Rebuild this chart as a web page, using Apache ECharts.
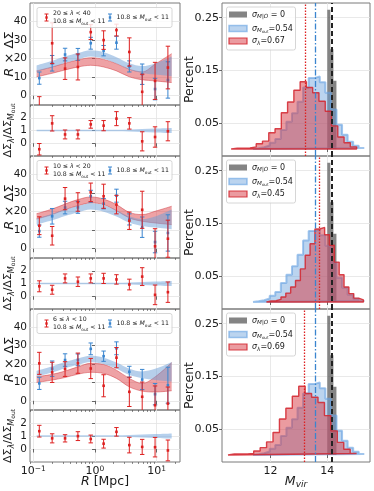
<!DOCTYPE html>
<html>
<head>
<meta charset="utf-8">
<script src="https://cdn.jsdelivr.net/npm/echarts@6/dist/echarts.min.js"></script>
<style>
html,body{margin:0;padding:0;background:#ffffff;}
#chart{width:374px;height:491px;}
</style>
</head>
<body>
<div id="chart"></div>
<script>
// ================= DATA =================
// projected radius of the measurement bins [Mpc]
const radiusMpc = [0.125, 0.202, 0.327, 0.528, 0.853, 1.379, 2.228, 3.602, 5.821, 9.408, 15.2];
// radius grid of the model bands [Mpc]
const bandRadius = [0.113, 0.202, 0.327, 0.528, 0.853, 1.379, 2.228, 3.602, 5.821, 9.408, 17.5];

// richness bins and observable mass bin
const lambdaBins = [[20, 40], [10, 20], [6, 10]];
const moutBin = [10.8, 11];

// R x DeltaSigma, Mout-selected sample (same in every row)
const moutDS    = [9.5, 17.5, 22.2, 22.3, 28.3, 24.3, 28.6, 15.8, 11.6, 3.6, 8.5];
const moutDSErr = [3.3, 4.2, 3.4, 3.2, 3.2, 2.8, 3.5, 3.0, 5.5, 5.8, 9.8];

// R x DeltaSigma, richness-selected samples
const lambda1DS    = [-7.5, 28.3, 14.6, 15.5, 34.3, 30.0, 35.4, 23.6, 2.1, 8.0, 15.2];
const lambda1DSErr = [7.0, 11.0, 5.8, 7.0, 4.0, 5.0, 3.2, 7.6, 9.5, 10.0, 11.5];
const lambda2DS    = [12.4, 7.0, 27.0, 25.2, 30.4, 28.3, 23.8, 15.1, 21.0, 1.3, 5.4];
const lambda2DSErr = [4.8, 5.0, 6.0, 5.0, 5.0, 6.5, 5.0, 4.7, 10.0, 9.5, 10.0];
const lambda3DS    = [20.4, 15.5, 17.3, 20.5, 17.6, 8.2, 23.5, 4.9, 2.2, -2.4, -1.5];
const lambda3DSErr = [6.0, 5.5, 4.0, 5.5, 5.5, 6.0, 5.5, 8.0, 8.0, 10.5, 9.0];

// model bands (lower / upper)
const moutBandLo = [13.2, 15.4, 17.7, 19.6, 21.2, 20.0, 17.4, 14.0, 12.3, 11.4, 10.5];
const moutBandHi = [16.3, 18.8, 21.1, 23.0, 24.5, 23.5, 20.8, 17.5, 16.0, 17.4, 21.2];
const lambda1BandLo = [10.2, 12.1, 13.9, 15.5, 16.4, 15.5, 13.4, 10.2, 8.6, 8.0, 7.1];
const lambda1BandHi = [13.4, 15.5, 17.5, 19.3, 20.5, 19.6, 17.3, 14.3, 12.9, 17.0, 22.7];
const lambda2BandLo = [16.0, 18.4, 21.1, 23.2, 24.7, 23.8, 20.5, 16.6, 14.8, 13.9, 13.0];
const lambda2BandHi = [18.9, 21.4, 24.1, 26.5, 27.9, 26.8, 23.8, 19.6, 18.4, 20.2, 22.9];
const lambda3BandLo = [10.0, 11.3, 12.7, 14.5, 15.5, 14.9, 12.2, 7.6, 5.3, 4.8, 5.5];
const lambda3BandHi = [13.1, 14.4, 16.2, 18.5, 20.4, 19.8, 16.7, 12.2, 9.5, 13.0, 20.8];

// ratio DeltaSigma_lambda / DeltaSigma_Mout
const lambda1Ratio    = [-0.47, 1.56, 0.69, 0.69, 1.48, 1.38, 1.93, 1.56, 0.15, 0.49, 0.94];
const lambda1RatioErr = [0.45, 0.6, 0.35, 0.35, 0.3, 0.4, 0.55, 0.45, 0.75, 0.8, 0.75];
const lambda2Ratio    = [0.78, 0.51, 1.40, 1.14, 1.40, 1.40, 1.32, 0.92, 1.54, 0.11, 0.32];
const lambda2RatioErr = [0.43, 0.35, 0.35, 0.37, 0.35, 0.4, 0.37, 0.42, 0.7, 0.77, 0.8];
const lambda3Ratio    = [1.37, 0.82, 0.82, 0.99, 0.77, 0.41, 1.32, 0.30, 0.16, 0.14, -0.11];
const lambda3RatioErr = [0.45, 0.35, 0.28, 0.34, 0.3, 0.34, 0.33, 0.6, 0.58, 0.75, 0.8];
const ratioBandLo = [0.94, 0.95, 0.95, 0.95, 0.95, 0.95, 0.94, 0.92, 0.89, 0.85, 0.80];
const ratioBandHi = [1.06, 1.05, 1.05, 1.05, 1.05, 1.05, 1.06, 1.08, 1.11, 1.15, 1.20];

// M_vir histograms (first bin edge, bin width, fractions)
const trueHistStart = 14.0, trueHistWidth = 0.107;
const trueHist = [0.265, 0.19, 0.13];
const moutHistStart = 11.39, moutHistWidth = 0.1955;
const moutHist = [0.0016, 0.0035, 0.0067, 0.012, 0.019, 0.036, 0.052, 0.068, 0.09, 0.117,
                  0.135, 0.138, 0.127, 0.107, 0.075, 0.046, 0.027, 0.014, 0.006, 0.002];
const lambdaHistStart = [10.62, 11.86, 10.51];
const lambdaHistWidth = [0.2205, 0.1705, 0.226];
const lambda1Hist = [0.0016, 0.0016, 0.002, 0.004, 0.0099, 0.015, 0.031, 0.0385, 0.069, 0.0895,
                     0.112, 0.128, 0.117, 0.107, 0.091, 0.072, 0.044, 0.023, 0.012, 0.004];
const lambda2Hist = [0.002, 0.0025, 0.005, 0.0095, 0.017, 0.0285, 0.041, 0.063, 0.089, 0.111,
                     0.139, 0.142, 0.128, 0.108, 0.076, 0.052, 0.0285, 0.016, 0.0075, 0.004];
const lambda3Hist = [0.002, 0.002, 0.002, 0.003, 0.0077, 0.014, 0.025, 0.043, 0.0686, 0.089,
                     0.112, 0.131, 0.117, 0.11, 0.1, 0.075, 0.046, 0.024, 0.011, 0.003];

// mean masses (vertical lines)
const meanTrue = 14.14;
const meanMout = 13.56;
const meanLambda = [13.23, 13.72, 13.19];

// scatter values in legends
const sigmaTrue = '0';
const sigmaMout = '0.54';
const sigmaLambda = ['0.67', '0.45', '0.69'];

// tick labels
const xLogTicks = [-1, 0, 1];
const xMinorTicksMpc = [0.09, 0.2, 0.3, 0.4, 0.5, 0.6, 0.7, 0.8, 0.9, 2, 3, 4, 5, 6, 7, 8, 9, 20];
const mainYTicks = [0, 10, 20, 30, 40];
const ratioYTicks = [0, 1, 2];
const histYTicks = [0.05, 0.15, 0.25];
const histXTicks = [12, 14];

// ================= STYLE / LAYOUT =================
const FONT = 'DejaVu Sans';
const TXT = '#1a1a1a';
const RED = '#dd2020';
const BLUE = '#3a85cf';
const GRIDC = '#e3e3e3';
const FRAME = '#7a7a7a';
const X_LOG_MIN = -1.054, X_LOG_MAX = 1.378;
const MAIN_Y = [-5, 50], RATIO_Y = [-1, 3], HIST_Y = [-0.0133, 0.278], HIST_X = [10.3, 15.5];

const leftBoxes = [
  {top: 3, height: 102}, {top: 105, height: 51},
  {top: 156, height: 102}, {top: 258, height: 51},
  {top: 309, height: 101}, {top: 410, height: 52}
];
const histBoxes = [{top: 3, height: 153}, {top: 156, height: 153}, {top: 309, height: 153}];

const grids = [];
leftBoxes.forEach(b => grids.push({left: 30, width: 150, top: b.top, height: b.height, show: true,
  borderColor: FRAME, borderWidth: 1, backgroundColor: 'transparent', containLabel: false, outerBoundsMode: 'none'}));
histBoxes.forEach(b => grids.push({left: 222, width: 148, top: b.top, height: b.height, show: true,
  borderColor: FRAME, borderWidth: 1, backgroundColor: 'transparent', containLabel: false, outerBoundsMode: 'none'}));

const minorLog = xMinorTicksMpc.map(v => Math.log10(v));

const xAxes = [];
for (let g = 0; g < 6; g++) {
  xAxes.push({
    type: 'value', gridIndex: g, position: 'bottom', min: X_LOG_MIN, max: X_LOG_MAX,
    axisLine: {show: false},
    axisTick: {show: true, length: 3.5, customValues: xLogTicks, lineStyle: {color: '#444', width: 0.8}},
    axisLabel: {show: g === 5, customValues: xLogTicks, margin: 3, color: TXT, fontSize: 11, fontFamily: FONT, lineHeight: 13,
      formatter: v => '10{sup|' + (v < 0 ? '−' : '') + Math.abs(Math.round(v)) + '}',
      rich: {sup: {fontSize: 7.5, fontFamily: FONT, color: TXT, verticalAlign: 'top', lineHeight: 8}}},
    splitLine: {show: true, lineStyle: {color: GRIDC, width: 0.8}},
    name: g === 5 ? '{i|R} [Mpc]' : '', nameLocation: 'middle', nameGap: 13, nameMoveOverlap: false,
    nameTextStyle: {fontSize: 12.5, color: TXT, fontFamily: FONT,
      rich: {i: {fontStyle: 'italic', fontSize: 12.5, fontFamily: FONT, color: TXT}}}
  });
  xAxes.push({
    type: 'value', gridIndex: g, position: 'bottom', min: X_LOG_MIN, max: X_LOG_MAX,
    axisLine: {show: false}, axisLabel: {show: false}, splitLine: {show: false},
    axisTick: {show: true, length: 2, customValues: minorLog, lineStyle: {color: '#444', width: 0.6}}
  });
}
for (let r = 0; r < 3; r++) {
  xAxes.push({
    type: 'value', gridIndex: 6 + r, position: 'bottom', min: HIST_X[0], max: HIST_X[1],
    axisLine: {show: false},
    axisTick: {show: true, length: 3, customValues: histXTicks, lineStyle: {color: '#444', width: 0.8}},
    axisLabel: {show: r === 2, customValues: histXTicks, margin: 4, color: TXT, fontSize: 11, fontFamily: FONT},
    splitLine: {show: true, lineStyle: {color: GRIDC, width: 0.8}},
    name: r === 2 ? '{i|M}{s|vir}' : '', nameLocation: 'middle', nameGap: 12, nameMoveOverlap: false,
    nameTextStyle: {fontSize: 12.5, color: TXT, fontFamily: FONT, lineHeight: 15,
      rich: {i: {fontStyle: 'italic', fontSize: 12.5, fontFamily: FONT, color: TXT},
             s: {fontStyle: 'italic', fontSize: 9, fontFamily: FONT, color: TXT, verticalAlign: 'bottom', lineHeight: 9}}}
  });
}

const yAxes = [];
for (let g = 0; g < 6; g++) {
  const isMain = g % 2 === 0;
  yAxes.push({
    type: 'value', gridIndex: g,
    min: isMain ? MAIN_Y[0] : RATIO_Y[0], max: isMain ? MAIN_Y[1] : RATIO_Y[1],
    axisLine: {show: false},
    axisTick: {show: true, length: 3, customValues: isMain ? mainYTicks : ratioYTicks, lineStyle: {color: '#444', width: 0.8}},
    axisLabel: {customValues: isMain ? mainYTicks : ratioYTicks, fontSize: 10.5, color: TXT, fontFamily: FONT, margin: 3},
    splitLine: {show: true, lineStyle: {color: GRIDC, width: 0.8}},
    name: isMain ? '{i|R} × ΔΣ' : 'ΔΣ{s|λ}/ΔΣ{s|M}{ss|out}',
    nameLocation: 'middle', nameRotate: 90, nameGap: isMain ? 14 : 14, nameMoveOverlap: false,
    nameTextStyle: isMain
      ? {fontSize: 13, color: TXT, fontFamily: FONT, rich: {i: {fontStyle: 'italic', fontSize: 13, fontFamily: FONT, color: TXT}}}
      : {fontSize: 11, color: TXT, fontFamily: FONT, lineHeight: 15,
         rich: {s: {fontStyle: 'italic', fontSize: 8, fontFamily: FONT, color: TXT, verticalAlign: 'bottom', lineHeight: 9},
                ss: {fontSize: 6, fontFamily: FONT, color: TXT, verticalAlign: 'bottom', lineHeight: 6}}}
  });
}
for (let r = 0; r < 3; r++) {
  yAxes.push({
    type: 'value', gridIndex: 6 + r, min: HIST_Y[0], max: HIST_Y[1],
    axisLine: {show: false},
    axisTick: {show: true, length: 3, customValues: histYTicks, lineStyle: {color: '#444', width: 0.8}},
    axisLabel: {customValues: histYTicks, formatter: v => v.toFixed(2), fontSize: 11, color: TXT, fontFamily: FONT, margin: 3},
    splitLine: {show: true, lineStyle: {color: GRIDC, width: 0.8}},
    name: 'Percent', nameLocation: 'middle', nameRotate: 90, nameGap: 26, nameMoveOverlap: false,
    nameTextStyle: {fontSize: 12.5, color: TXT, fontFamily: FONT}
  });
}

// ================= SERIES BUILDERS =================
function errorBars(xi, yi, radii, vals, errs, color, z) {
  return {
    type: 'custom', xAxisIndex: xi, yAxisIndex: yi, clip: true, z: z, silent: true,
    encode: {x: 0, y: 1},
    data: radii.map((R, i) => [Math.log10(R), vals[i], errs[i]]),
    renderItem: function (params, api) {
      const x = api.value(0), y = api.value(1), e = api.value(2);
      const c = api.coord([x, y]), t = api.coord([x, y + e]), b = api.coord([x, y - e]);
      const cw = 2.2;
      const st = {stroke: color, lineWidth: 1};
      return {type: 'group', children: [
        {type: 'line', shape: {x1: c[0], y1: t[1], x2: c[0], y2: b[1]}, style: st},
        {type: 'line', shape: {x1: c[0] - cw, y1: t[1], x2: c[0] + cw, y2: t[1]}, style: st},
        {type: 'line', shape: {x1: c[0] - cw, y1: b[1], x2: c[0] + cw, y2: b[1]}, style: st},
        {type: 'rect', shape: {x: c[0] - 1.3, y: c[1] - 1.3, width: 2.6, height: 2.6}, style: {fill: color}}
      ]};
    }
  };
}

// Band = two stacked line series. The y value is put in the first dimension
// so that stacking applies to y (both axes are value axes).
function band(xi, yi, radii, lo, hi, fill, edge, stackId, z) {
  const lx = radii.map(v => Math.log10(v));
  const ls = edge ? {color: edge, width: 0.8} : {width: 0, opacity: 0};
  return [
    {type: 'line', xAxisIndex: xi, yAxisIndex: yi, stack: stackId, encode: {x: 1, y: 0},
     data: lx.map((x, i) => [lo[i], x]),
     symbol: 'none', smooth: 0.35, lineStyle: ls, z: z, silent: true},
    {type: 'line', xAxisIndex: xi, yAxisIndex: yi, stack: stackId, encode: {x: 1, y: 0},
     data: lx.map((x, i) => [hi[i] - lo[i], x]),
     symbol: 'none', smooth: 0.35, lineStyle: ls, areaStyle: {color: fill, opacity: 1}, z: z, silent: true}
  ];
}

function hist(r, start, width, heights, fill, lineColor, lineWidth, z) {
  const pts = [[start, 0]];
  heights.forEach((h, i) => pts.push([start + i * width, h]));
  pts.push([start + heights.length * width, 0]);
  pts.push([start, 0]);
  return {
    type: 'line', xAxisIndex: 12 + r, yAxisIndex: 6 + r, data: pts, step: 'end', symbol: 'none',
    lineStyle: lineWidth ? {color: lineColor, width: lineWidth} : {width: 0, opacity: 0},
    areaStyle: {color: fill, opacity: 1}, z: z, silent: true, clip: true
  };
}

const lambdaDS = [lambda1DS, lambda2DS, lambda3DS];
const lambdaDSErr = [lambda1DSErr, lambda2DSErr, lambda3DSErr];
const lambdaBandLo = [lambda1BandLo, lambda2BandLo, lambda3BandLo];
const lambdaBandHi = [lambda1BandHi, lambda2BandHi, lambda3BandHi];
const lambdaRatio = [lambda1Ratio, lambda2Ratio, lambda3Ratio];
const lambdaRatioErr = [lambda1RatioErr, lambda2RatioErr, lambda3RatioErr];
const lambdaHist = [lambda1Hist, lambda2Hist, lambda3Hist];

const series = [];
for (let r = 0; r < 3; r++) {
  const gm = 2 * r, gr = 2 * r + 1;
  // main panel
  series.push(...band(2 * gm, gm, bandRadius, lambdaBandLo[r], lambdaBandHi[r],
    'rgba(222,70,75,0.5)', 'rgba(205,40,45,0.55)', 'red' + r, 2));
  series.push(...band(2 * gm, gm, bandRadius, moutBandLo, moutBandHi,
    'rgba(110,160,215,0.5)', null, 'blue' + r, 3));
  series.push(errorBars(2 * gm, gm, radiusMpc, moutDS, moutDSErr, BLUE, 5));
  series.push(errorBars(2 * gm, gm, radiusMpc, lambdaDS[r], lambdaDSErr[r], RED, 6));
  // ratio panel
  series.push(...band(2 * gr, gr, bandRadius, ratioBandLo, ratioBandHi,
    'rgba(120,170,222,0.55)', null, 'ratio' + r, 3));
  series.push(errorBars(2 * gr, gr, radiusMpc, lambdaRatio[r], lambdaRatioErr[r], RED, 6));
  // histograms
  series.push(hist(r, trueHistStart, trueHistWidth, trueHist, 'rgba(85,85,85,0.72)', null, 0, 2));
  series.push(hist(r, moutHistStart, moutHistWidth, moutHist, 'rgba(105,160,220,0.45)', 'rgba(100,160,225,0.6)', 2, 3));
  const rh = hist(r, lambdaHistStart[r], lambdaHistWidth[r], lambdaHist[r], 'rgba(215,55,65,0.5)', 'rgba(210,35,45,0.85)', 1.4, 4);
  rh.markLine = {
    silent: true, symbol: 'none', label: {show: false}, z: 8, animation: false,
    data: [
      {xAxis: meanTrue, lineStyle: {color: '#222', width: 2, type: [5, 3]}},
      {xAxis: meanMout, lineStyle: {color: BLUE, width: 1.3, type: [6, 2, 1.5, 2]}},
      {xAxis: meanLambda[r], lineStyle: {color: RED, width: 1.3, type: [1.5, 1.5]}}
    ]
  };
  series.push(rh);
}

// ================= LEGENDS (graphic) =================
const graphics = [];
function errIcon(cx, cy, color) {
  const st = {stroke: color, lineWidth: 1};
  graphics.push({type: 'line', z: 101, shape: {x1: cx, y1: cy - 3.5, x2: cx, y2: cy + 3.5}, style: st});
  graphics.push({type: 'line', z: 101, shape: {x1: cx - 2, y1: cy - 3.5, x2: cx + 2, y2: cy - 3.5}, style: st});
  graphics.push({type: 'line', z: 101, shape: {x1: cx - 2, y1: cy + 3.5, x2: cx + 2, y2: cy + 3.5}, style: st});
  graphics.push({type: 'rect', z: 101, shape: {x: cx - 1.2, y: cy - 1.2, width: 2.4, height: 2.4}, style: {fill: color}});
}
const legRich = (fs) => ({
  i: {fontStyle: 'italic', fontSize: fs, fontFamily: FONT, fill: TXT},
  s: {fontSize: fs * 0.7, fontFamily: FONT, fill: TXT, verticalAlign: 'bottom', lineHeight: fs * 0.75},
  si: {fontStyle: 'italic', fontSize: fs * 0.7, fontFamily: FONT, fill: TXT, verticalAlign: 'bottom', lineHeight: fs * 0.75},
  ss: {fontSize: fs * 0.5, fontFamily: FONT, fill: TXT, verticalAlign: 'bottom', lineHeight: fs * 0.5}
});
function legText(x, y, text, fs) {
  graphics.push({type: 'text', z: 101, x: x, y: y,
    style: {text: text, fontSize: fs, fontFamily: FONT, fill: TXT, align: 'left', verticalAlign: 'middle',
            lineHeight: fs * 1.3, rich: legRich(fs)}});
}
const moutLabel = moutBin[0] + ' ≤ {i|M}{s|out} < ' + moutBin[1];
[3, 156, 309].forEach((T, r) => {
  graphics.push({type: 'rect', z: 100, shape: {x: 37, y: T + 4.5, width: 135, height: 20, r: 2},
    style: {fill: 'rgba(255,255,255,0.82)', stroke: '#cccccc', lineWidth: 0.8}});
  errIcon(46.5, T + 14.5, RED);
  legText(53, T + 10, lambdaBins[r][0] + ' ≤ {i|λ} < ' + lambdaBins[r][1], 6.2);
  legText(53, T + 18.5, moutLabel, 6.2);
  errIcon(110, T + 14.5, BLUE);
  legText(116.5, T + 14.5, moutLabel, 6.2);

  graphics.push({type: 'rect', z: 100, shape: {x: 226.5, y: T + 4, width: 69, height: 43, r: 2},
    style: {fill: 'rgba(255,255,255,0.82)', stroke: '#cccccc', lineWidth: 0.8}});
  graphics.push({type: 'rect', z: 101, shape: {x: 229, y: T + 8.5, width: 18, height: 6},
    style: {fill: 'rgba(85,85,85,0.72)'}});
  graphics.push({type: 'rect', z: 101, shape: {x: 229, y: T + 22.5, width: 18, height: 6},
    style: {fill: 'rgba(105,160,220,0.45)', stroke: 'rgba(100,160,225,0.6)', lineWidth: 1.5}});
  graphics.push({type: 'rect', z: 101, shape: {x: 229, y: T + 35, width: 18, height: 6},
    style: {fill: 'rgba(215,55,65,0.5)', stroke: 'rgba(210,35,45,0.85)', lineWidth: 1.2}});
  legText(252, T + 11.5, '{i|σ}{si|M|O} = ' + sigmaTrue, 8);
  legText(252, T + 25.5, '{i|σ}{si|M}{ss|out}=' + sigmaMout, 8);
  legText(252, T + 38, '{i|σ}{si|λ}=' + sigmaLambda[r], 8);
});

const option = {
  animation: false,
  backgroundColor: '#ffffff',
  textStyle: {fontFamily: FONT},
  grid: grids,
  xAxis: xAxes,
  yAxis: yAxes,
  series: series,
  graphic: graphics
};

const chart = echarts.init(document.getElementById('chart'), null, {renderer: 'canvas'});
chart.setOption(option);
</script>
</body>
</html>
